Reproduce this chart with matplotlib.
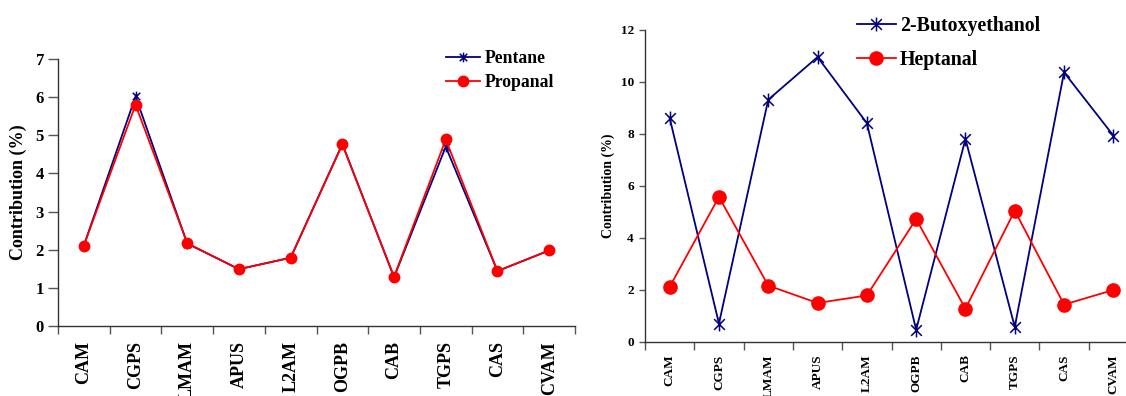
import numpy as np
import matplotlib
matplotlib.use("Agg")
import matplotlib.pyplot as plt
from matplotlib.path import Path

plt.rcParams['font.family'] = ['Liberation Serif', 'DejaVu Serif']
plt.rcParams['font.weight'] = 'bold'

sites = ['CAM', 'CGPS', 'LMAM', 'APUS', 'L2AM', 'OGPB', 'CAB', 'TGPS', 'CAS', 'CVAM']

pentane = [2.11, 6.02, 2.16, 1.49, 1.79, 4.77, 1.28, 4.70, 1.44, 1.98]
propanal = [2.11, 5.80, 2.17, 1.49, 1.79, 4.76, 1.29, 4.89, 1.44, 1.98]

butoxyethanol = [8.62, 0.71, 9.32, 10.96, 8.42, 0.47, 7.81, 0.58, 10.37, 7.94]
heptanal = [2.12, 5.58, 2.17, 1.50, 1.79, 4.73, 1.28, 5.05, 1.44, 2.00]

navy = '#000080'
red = '#ff0000'

# excel style asterisk: an x with a vertical bar
star = Path([(-1, -1), (1, 1), (-1, 1), (1, -1), (0, -1.3), (0, 1.3)],
            [Path.MOVETO, Path.LINETO, Path.MOVETO, Path.LINETO, Path.MOVETO, Path.LINETO])

W, H = 1126, 396
fig = plt.figure(figsize=(W / 100, H / 100), dpi=100)


def px_axes(x0, y_top, x1, y_bot):
    return fig.add_axes([x0 / W, 1 - y_bot / H, (x1 - x0) / W, (y_bot - y_top) / H])


def style(ax, ymax, ystep, ytick_fs, xtick_fs, ylen, xpad, ypad):
    x = np.arange(len(sites)) + 0.5
    ax.set_xlim(0, len(sites))
    ax.set_ylim(0, ymax)
    ax.set_yticks(np.arange(0, ymax + 0.01, ystep))
    ax.set_xticks(np.arange(0, len(sites) + 1))
    ax.set_xticklabels([])
    ax.set_xticks(x, minor=True)
    ax.set_xticklabels(sites, minor=True, rotation=90, fontsize=xtick_fs, fontweight='bold')
    ax.tick_params(axis='x', which='minor', length=0, pad=xpad)
    ax.tick_params(axis='x', which='major', length=6, width=1, color='#555555')
    ax.tick_params(axis='y', length=ylen, width=1, labelsize=ytick_fs, pad=ypad, color='#555555')
    for s in ['top', 'right']:
        ax.spines[s].set_visible(False)
    for s in ['left', 'bottom']:
        ax.spines[s].set_color('#333333')
        ax.spines[s].set_linewidth(1)
    for lab in ax.get_yticklabels():
        lab.set_fontweight('bold')
    return x


# left panel
ax1 = px_axes(58, 59, 575, 326)
x = style(ax1, 7, 1, 12, 13, 7, 11, 3)
ax1.plot(x, pentane, color=navy, lw=1.3, marker=star, ms=7, mec=navy, mew=1.1, label='Pentane')
ax1.plot(x, propanal, color=red, lw=1.3, marker='o', ms=7.5, mfc=red, mec=red, label='Propanal')
ax1.set_ylabel('Contribution (%)', fontsize=13, fontweight='bold', labelpad=6)
ax1.legend(loc='upper left', bbox_to_anchor=(446 / W, 1 - 50 / H), bbox_transform=fig.transFigure,
           frameon=False, fontsize=12.7, handlelength=1.95, handletextpad=0.25,
           labelspacing=0.42, borderpad=0, borderaxespad=0)

# right panel
ax2 = px_axes(645, 30, 1138, 342)
x = style(ax2, 12, 2, 9.5, 9.5, 4, 9, 4)
ax2.plot(x, butoxyethanol, color=navy, lw=1.3, marker=star, ms=10, mec=navy, mew=1.1, label='2-Butoxyethanol')
ax2.plot(x, heptanal, color=red, lw=1.3, marker='o', ms=9.5, mfc=red, mec=red, label='Heptanal')
ax2.set_ylabel('Contribution (%)', fontsize=10, fontweight='bold', labelpad=4)
ax2.legend(loc='upper left', bbox_to_anchor=(857 / W, 1 - 16 / H), bbox_transform=fig.transFigure,
           frameon=False, fontsize=14.3, handlelength=1.95, handletextpad=0.2,
           labelspacing=0.68, borderpad=0, borderaxespad=0)

fig.savefig('out.png', dpi=100)
